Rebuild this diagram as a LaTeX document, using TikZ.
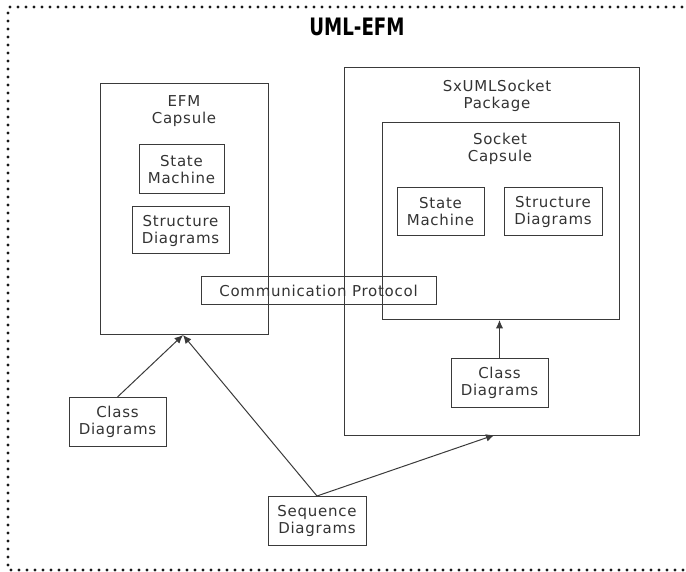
\documentclass[tikz,border=0pt]{standalone}
\usepackage{fontspec}
\setmainfont{DejaVu Sans}[LetterSpace=5]
\newfontfamily\titlefont{DejaVu Sans}[BoldFont={DejaVu Sans Bold}]
\usetikzlibrary{arrows.meta}
\definecolor{txt}{HTML}{333333}
\definecolor{ln}{HTML}{3A3A3A}
\tikzset{
  box/.style={draw=ln, line width=1pt, inner sep=0pt, outer sep=0pt, rectangle},
  lbl/.style={text=txt, font=\fontsize{15}{17}\selectfont, align=center, inner sep=0pt},
  conn/.style={draw=ln, line width=1pt, -{Latex[length=8.5pt,width=7.5pt]}},
  frame/.style={line width=3.2pt, dash pattern=on 0pt off 8pt, line cap=round, draw=black!90}
}
\begin{document}
\begin{tikzpicture}[x=1pt,y=-1pt]
\useasboundingbox (0,0) rectangle (686,572);
\draw[frame] (690,7) -- (8,7) -- (8,570) -- (690,570);
\node[text=black, inner sep=0pt] (title) at (357,27) {\scalebox{0.76}[1]{\titlefont\bfseries\fontsize{24}{26}\selectfont UML-EFM}};

% EFM capsule
\node[box, minimum width=168pt, minimum height=251pt] (efm) at (184,209.5) {};
\node[lbl] (efmlabel) at (184,111.5) {EFM\\Capsule};
\node[box, minimum width=85pt, minimum height=49pt] (efmsm) at (181.5,169.5) {};
\node[lbl] at (efmsm) {State\\Machine};
\node[box, minimum width=97pt, minimum height=47pt] (efmsd) at (180.5,230.5) {};
\node[lbl] at (efmsd) {Structure\\Diagrams};

% package
\node[box, minimum width=295pt, minimum height=367pt] (pkg) at (491.5,251.5) {};
\node[lbl] (pkglabel) at (497,95.5) {SxUMLSocket\\Package};
\node[box, minimum width=237pt, minimum height=197pt] (sock) at (500.5,221.5) {};
\node[lbl] (socklabel) at (500,148.5) {Socket\\Capsule};
\node[box, minimum width=87pt, minimum height=48pt] (socksm) at (440.5,212) {};
\node[lbl] at (socksm) {State\\Machine};
\node[box, minimum width=98pt, minimum height=48pt] (socksd) at (553,212) {};
\node[lbl] at (socksd) {Structure\\Diagrams};
\node[box, minimum width=97pt, minimum height=49pt] (cdr) at (499.5,382.5) {};
\node[lbl] at (cdr) {Class\\Diagrams};

% communication protocol
\node[box, minimum width=235pt, minimum height=28pt] (comm) at (318.5,291) {};
\node[lbl] at (comm) {Communication Protocol};

% outside boxes
\node[box, minimum width=97pt, minimum height=49pt] (cdl) at (117.5,421.5) {};
\node[lbl] at (cdl) {Class\\Diagrams};
\node[box, minimum width=98pt, minimum height=49pt] (seq) at (317,520.5) {};
\node[lbl] at (seq) {Sequence\\Diagrams};

% connectors
\coordinate (efmin) at ([xshift=-1pt]efm.south);
\coordinate (pkgin) at ([xshift=3pt]pkg.south);
\draw[conn] (cdl.north) -- (efmin);
\draw[conn] (seq.north) -- (efmin);
\draw[conn] (seq.north) -- (pkgin);
\draw[conn] (cdr.north) -- (cdr.north |- sock.south);
\end{tikzpicture}
\end{document}
